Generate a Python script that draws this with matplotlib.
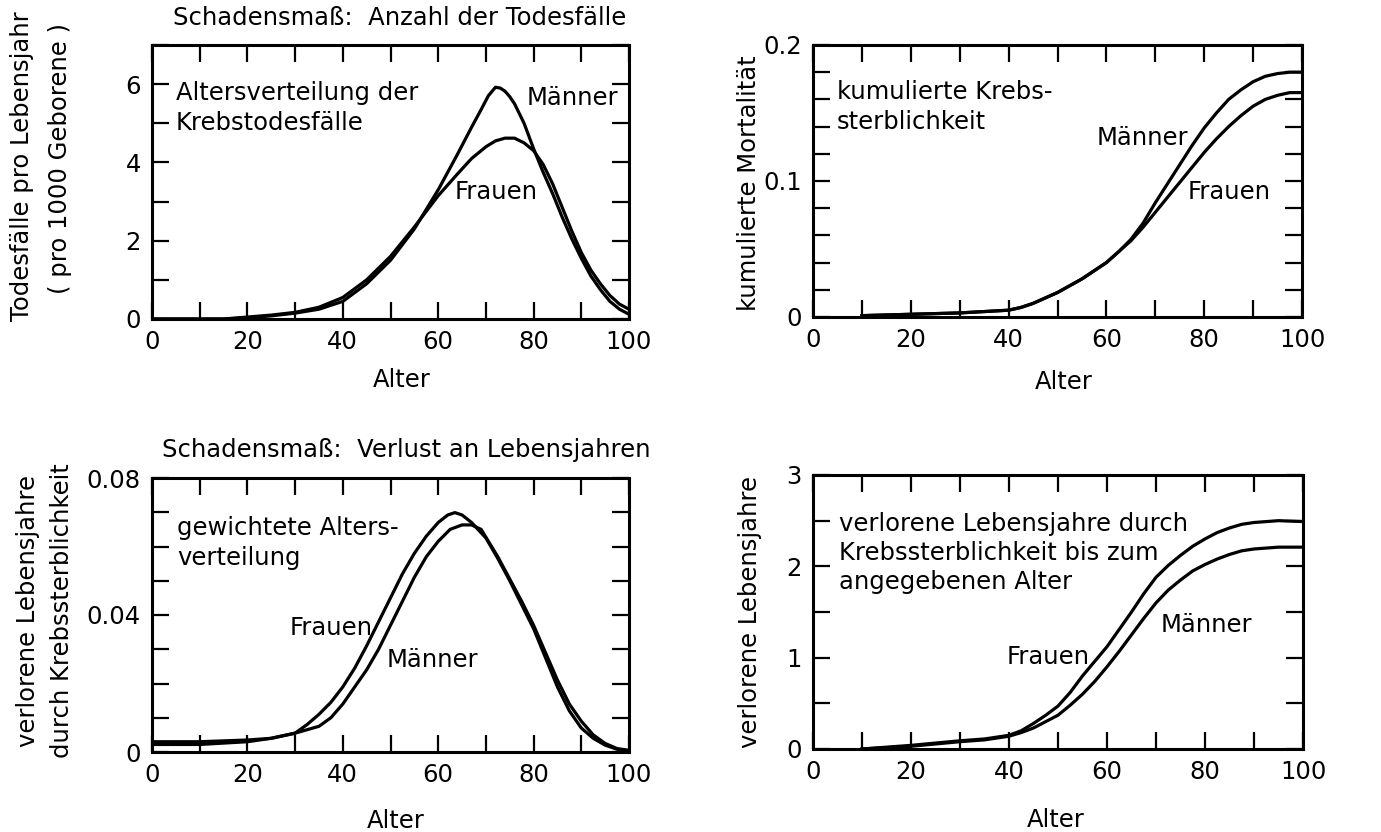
import numpy as np
import matplotlib
matplotlib.use("Agg")
from matplotlib import pyplot as plt
from matplotlib.ticker import MultipleLocator

plt.rcParams['font.family'] = ['DejaVu Sans']
plt.rcParams['font.size'] = 17.5

# Altersverteilung der Krebstodesfaelle (pro 1000 Geborene)
alter_am = [0, 15, 20, 25, 30, 35, 40, 45, 50, 55, 60, 64, 67, 69, 70.5, 72, 73, 74, 75, 76, 78, 80, 82, 84, 86, 88, 90, 92, 94, 96, 98, 100]
maenner_a = [0, 0, 0.03, 0.08, 0.15, 0.25, 0.45, 0.9, 1.5, 2.3, 3.3, 4.2, 4.9, 5.35, 5.7, 5.92, 5.9, 5.82, 5.68, 5.5, 5.0, 4.35, 3.75, 3.2, 2.6, 2.05, 1.55, 1.1, 0.75, 0.45, 0.25, 0.12]
alter_af = [0, 15, 20, 25, 30, 35, 40, 45, 50, 55, 60, 64, 67, 70, 72, 74, 76, 78, 80, 82, 84, 86, 88, 90, 92, 94, 96, 98, 100]
frauen_a = [0, 0, 0.05, 0.1, 0.17, 0.3, 0.55, 1.0, 1.6, 2.35, 3.15, 3.7, 4.1, 4.4, 4.55, 4.62, 4.62, 4.5, 4.3, 3.95, 3.45, 2.85, 2.25, 1.7, 1.25, 0.9, 0.6, 0.38, 0.25]

# kumulierte Krebssterblichkeit
alter_b = [10, 20, 30, 40, 42.5, 45, 47.5, 50, 52.5, 55, 57.5, 60, 62.5, 65, 67.5, 70, 72.5, 75, 77.5, 80, 82.5, 85, 87.5, 90, 92.5, 95, 97.5, 100]
maenner_b = [0.001, 0.002, 0.003, 0.005, 0.007, 0.01, 0.014, 0.018, 0.023, 0.028, 0.034, 0.04, 0.048, 0.057, 0.069, 0.084, 0.098, 0.112, 0.126, 0.139, 0.15, 0.16, 0.167, 0.173, 0.177, 0.179, 0.18, 0.18]
frauen_b = [0.001, 0.002, 0.003, 0.005, 0.007, 0.01, 0.014, 0.018, 0.023, 0.028, 0.034, 0.04, 0.048, 0.056, 0.066, 0.077, 0.088, 0.099, 0.11, 0.121, 0.131, 0.14, 0.148, 0.155, 0.16, 0.163, 0.165, 0.165]

# gewichtete Altersverteilung (verlorene Lebensjahre)
alter_cf = [0, 10, 20, 25, 30, 32.5, 35, 37.5, 40, 42.5, 45, 47.5, 50, 52.5, 55, 57.5, 60, 62, 63.5, 65, 67, 70, 72.5, 75, 77.5, 80, 82.5, 85, 87.5, 90, 92.5, 95, 97.5, 100]
frauen_c = [0.003, 0.003, 0.0035, 0.004, 0.0055, 0.008, 0.011, 0.0145, 0.019, 0.0245, 0.031, 0.038, 0.045, 0.052, 0.058, 0.063, 0.067, 0.0692, 0.0699, 0.0692, 0.067, 0.0625, 0.0565, 0.05, 0.043, 0.036, 0.0275, 0.019, 0.012, 0.007, 0.004, 0.002, 0.0008, 0.0003]
alter_cm = [0, 10, 20, 25, 30, 35, 37.5, 40, 42.5, 45, 47.5, 50, 52.5, 55, 57.5, 60, 62.5, 65, 67, 69, 72.5, 75, 77.5, 80, 82.5, 85, 87.5, 90, 92.5, 95, 97.5, 100]
maenner_c = [0.0022, 0.0022, 0.003, 0.004, 0.0055, 0.0075, 0.01, 0.014, 0.019, 0.024, 0.03, 0.037, 0.044, 0.051, 0.057, 0.0615, 0.065, 0.0663, 0.0663, 0.065, 0.057, 0.0505, 0.044, 0.037, 0.029, 0.021, 0.014, 0.009, 0.005, 0.0025, 0.001, 0.0005]

# verlorene Lebensjahre bis zum angegebenen Alter
alter_d = [10, 20, 30, 35, 40, 42.5, 45, 47.5, 50, 52.5, 55, 57.5, 60, 62.5, 65, 67.5, 70, 72.5, 75, 77.5, 80, 82.5, 85, 87.5, 90, 95, 100]
frauen_d = [0, 0.04, 0.09, 0.11, 0.15, 0.2, 0.28, 0.37, 0.47, 0.62, 0.8, 0.96, 1.12, 1.31, 1.5, 1.7, 1.88, 2.01, 2.12, 2.22, 2.3, 2.37, 2.42, 2.46, 2.48, 2.5, 2.49]
maenner_d = [0, 0.03, 0.08, 0.1, 0.14, 0.18, 0.23, 0.3, 0.37, 0.48, 0.6, 0.74, 0.9, 1.07, 1.25, 1.43, 1.6, 1.74, 1.85, 1.95, 2.02, 2.08, 2.13, 2.17, 2.19, 2.21, 2.21]

W, H = 1381, 832
fig = plt.figure(figsize=(13.81, 8.32), dpi=100)


def box(x0, y0, x1, y1):
    return [x0 / W, 1 - y1 / H, (x1 - x0) / W, (y1 - y0) / H]


def style(ax, ymax, ymajor, yminor, ylabels):
    ax.set_xlim(0, 100)
    ax.set_ylim(0, ymax)
    ax.set_xticks([0, 20, 40, 60, 80, 100])
    ax.xaxis.set_minor_locator(MultipleLocator(10))
    ax.set_yticks(ymajor)
    ax.set_yticklabels(ylabels)
    ax.yaxis.set_minor_locator(MultipleLocator(yminor))
    ax.tick_params(which='both', direction='in', top=True, right=True,
                   length=12, width=1.6, color='black')
    ax.tick_params(axis='x', pad=8)
    ax.tick_params(axis='y', pad=8)
    for s in ax.spines.values():
        s.set_linewidth(2.2)


lw = 2.3
ax1 = fig.add_axes(box(152, 45, 629, 319))
ax1.plot(alter_am, maenner_a, color='black', lw=lw)
ax1.plot(alter_af, frauen_a, color='black', lw=lw)
style(ax1, 7, [0, 2, 4, 6], 1, ['0', '2', '4', '6'])

ax2 = fig.add_axes(box(813, 45, 1302, 317))
ax2.plot(alter_b, maenner_b, color='black', lw=lw)
ax2.plot(alter_b, frauen_b, color='black', lw=lw)
style(ax2, 0.2, [0, 0.1, 0.2], 0.02, ['0', '0.1', '0.2'])

ax3 = fig.add_axes(box(152, 478, 629, 752))
ax3.plot(alter_cf, frauen_c, color='black', lw=lw)
ax3.plot(alter_cm, maenner_c, color='black', lw=lw)
style(ax3, 0.08, [0, 0.04, 0.08], 0.01, ['0', '0.04', '0.08'])

ax4 = fig.add_axes(box(813, 475, 1303, 749))
ax4.plot(alter_d, frauen_d, color='black', lw=lw)
ax4.plot(alter_d, maenner_d, color='black', lw=lw)
style(ax4, 3, [0, 1, 2, 3], 0.5, ['0', '1', '2', '3'])


def ftext(x, y, s, **kw):
    fig.text(x / W, 1 - y / H, s, **kw)


# Ueberschriften
ftext(173, 18, 'Schadensmaß:  Anzahl der Todesfälle', va='center', ha='left')
ftext(162, 450, 'Schadensmaß:  Verlust an Lebensjahren', va='center', ha='left')

# Achsenbeschriftungen
ftext(22, 166, 'Todesfälle pro Lebensjahr', rotation=90, ha='center', va='center')
ftext(60, 158, '( pro 1000 Geborene )', rotation=90, ha='center', va='center')
ftext(749, 183, 'kumulierte Mortalität', rotation=90, ha='center', va='center')
ftext(28, 611, 'verlorene Lebensjahre', rotation=90, ha='center', va='center')
ftext(62, 611, 'durch Krebssterblichkeit', rotation=90, ha='center', va='center')
ftext(750, 612, 'verlorene Lebensjahre', rotation=90, ha='center', va='center')

ftext(402, 380, 'Alter', ha='center', va='center')
ftext(1064, 382, 'Alter', ha='center', va='center')
ftext(396, 821, 'Alter', ha='center', va='center')
ftext(1056, 820, 'Alter', ha='center', va='center')

# Texte in den Diagrammen
ftext(176, 108, 'Altersverteilung der\nKrebstodesfälle', ha='left', va='center', linespacing=1.3)
ftext(527, 98, 'Männer', ha='left', va='center')
ftext(455, 192, 'Frauen', ha='left', va='center')

ftext(837, 107, 'kumulierte Krebs-\nsterblichkeit', ha='left', va='center', linespacing=1.3)
ftext(1097, 138, 'Männer', ha='left', va='center')
ftext(1188, 192, 'Frauen', ha='left', va='center')

ftext(177, 543, 'gewichtete Alters-\nverteilung', ha='left', va='center', linespacing=1.3)
ftext(290, 628, 'Frauen', ha='left', va='center')
ftext(387, 660, 'Männer', ha='left', va='center')

ftext(839, 553, 'verlorene Lebensjahre durch\nKrebssterblichkeit bis zum\nangegebenen Alter',
      ha='left', va='center', linespacing=1.25)
ftext(1161, 625, 'Männer', ha='left', va='center')
ftext(1007, 657, 'Frauen', ha='left', va='center')

fig.savefig('out.png', dpi=100)
